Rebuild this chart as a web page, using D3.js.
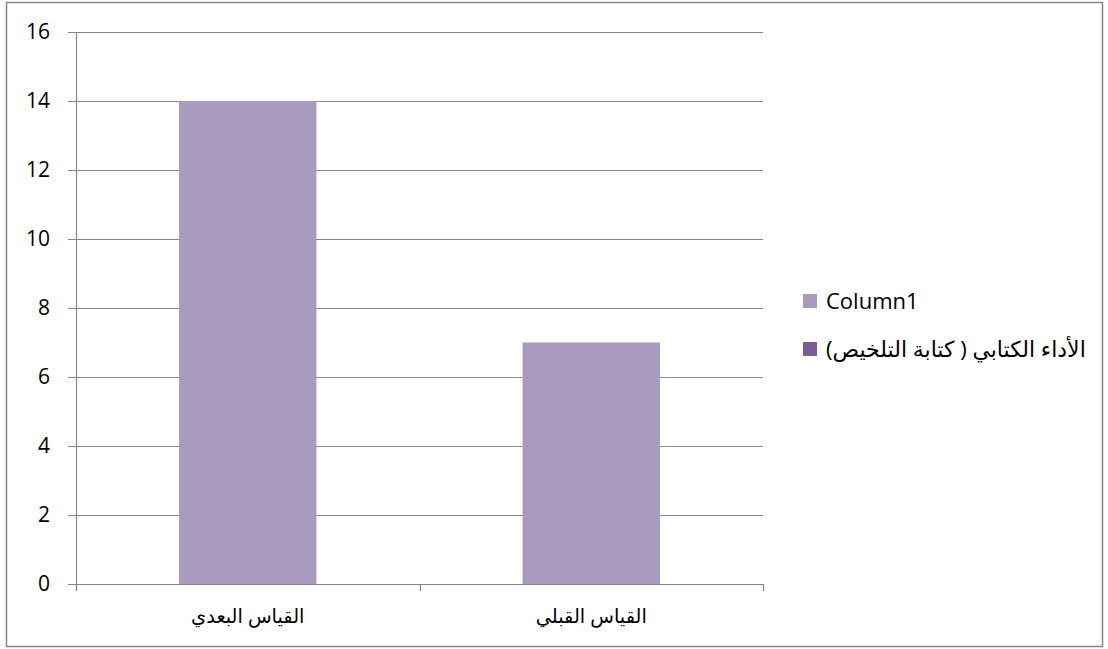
<!DOCTYPE html>
<html>
<head>
<meta charset="utf-8">
<script src="https://cdn.jsdelivr.net/npm/d3@7"></script>
<style>
  body { margin: 0; background: #fff; }
  text { font-family: "Open Sans", "DejaVu Sans", sans-serif; fill: #000; }
</style>
</head>
<body>
<div id="chart"></div>
<script>
// Data
var categories = ["القياس البعدي", "القياس القبلي"];
var values = [14, 7];
var yTicks = [0, 2, 4, 6, 8, 10, 12, 14, 16];
var legendLabels = ["Column1", "الأداء الكتابي ( كتابة التلخيص)"];
var legendColors = ["#a99bc0", "#7b5c97"];

var width = 1108;
var height = 649;

var svg = d3.select("#chart")
  .append("svg")
  .attr("width", width)
  .attr("height", height);

// Outer frame
svg.append("rect")
  .attr("x", 6.5)
  .attr("y", 2.5)
  .attr("width", 1096)
  .attr("height", 644)
  .attr("fill", "#fff")
  .attr("stroke", "#868686")
  .attr("stroke-width", 1.5);

// Scales
var xScale = d3.scaleBand()
  .domain(categories)
  .range([76, 763])
  .paddingInner(0.6)
  .paddingOuter(0.3);

var xEdge = d3.scaleBand().domain(categories).range([76, 763]);

var yScale = d3.scaleLinear()
  .domain([0, 16])
  .range([584, 32]);

// Gridlines
svg.append("g")
  .selectAll("line")
  .data(yTicks)
  .enter()
  .append("line")
  .attr("x1", 68)
  .attr("x2", 763)
  .attr("y1", function(d) { return Math.round(yScale(d)) + 0.5; })
  .attr("y2", function(d) { return Math.round(yScale(d)) + 0.5; })
  .attr("stroke", "#868686")
  .attr("stroke-width", 1.2);

// Y tick labels
svg.append("g")
  .selectAll("text")
  .data(yTicks)
  .enter()
  .append("text")
  .attr("x", 50)
  .attr("y", function(d) { return yScale(d); })
  .attr("dy", "0.35em")
  .attr("text-anchor", "end")
  .attr("font-size", 21)
  .text(function(d) { return d; });

// Bars
svg.append("g")
  .selectAll("rect")
  .data(values)
  .enter()
  .append("rect")
  .attr("x", function(d, i) { return xScale(categories[i]); })
  .attr("width", xScale.bandwidth())
  .attr("y", function(d) { return yScale(d); })
  .attr("height", function(d) { return yScale(0) - yScale(d); })
  .attr("fill", legendColors[0]);

// Y axis line
svg.append("line")
  .attr("x1", 76.5).attr("x2", 76.5)
  .attr("y1", 32).attr("y2", 591)
  .attr("stroke", "#868686")
  .attr("stroke-width", 1.2);

// X axis line
svg.append("line")
  .attr("x1", 68).attr("x2", 763)
  .attr("y1", 584.5).attr("y2", 584.5)
  .attr("stroke", "#868686")
  .attr("stroke-width", 1.2);

// X tick marks at band edges
var edges = categories.map(function(c) { return xEdge(c); }).concat([763]);
svg.append("g")
  .selectAll("line")
  .data(edges)
  .enter()
  .append("line")
  .attr("x1", function(d) { return Math.round(d) + 0.5; })
  .attr("x2", function(d) { return Math.round(d) + 0.5; })
  .attr("y1", 584)
  .attr("y2", 591)
  .attr("stroke", "#868686")
  .attr("stroke-width", 1.2);

// X labels
svg.append("g")
  .selectAll("text")
  .data(categories)
  .enter()
  .append("text")
  .attr("x", function(d) { return xEdge(d) + xEdge.bandwidth() / 2; })
  .attr("y", 616)
  .attr("dy", "0.35em")
  .attr("text-anchor", "middle")
  .attr("font-size", 19.4)
  .text(function(d) { return d; });

// Legend
var leg = svg.append("g");
leg.selectAll("rect")
  .data(legendLabels)
  .enter()
  .append("rect")
  .attr("x", 803)
  .attr("y", function(d, i) { return 294 + i * 48; })
  .attr("width", 14)
  .attr("height", 14)
  .attr("fill", function(d, i) { return legendColors[i]; });

leg.append("text")
  .attr("x", 826).attr("y", 301)
  .attr("dy", "0.35em")
  .attr("font-size", 22)
  .text(legendLabels[0]);

leg.append("text")
  .attr("x", 826).attr("y", 349)
  .attr("dy", "0.35em")
  .attr("text-anchor", "end")
  .attr("direction", "rtl")
  .attr("font-size", 22)
  .text(legendLabels[1]);
</script>
</body>
</html>
